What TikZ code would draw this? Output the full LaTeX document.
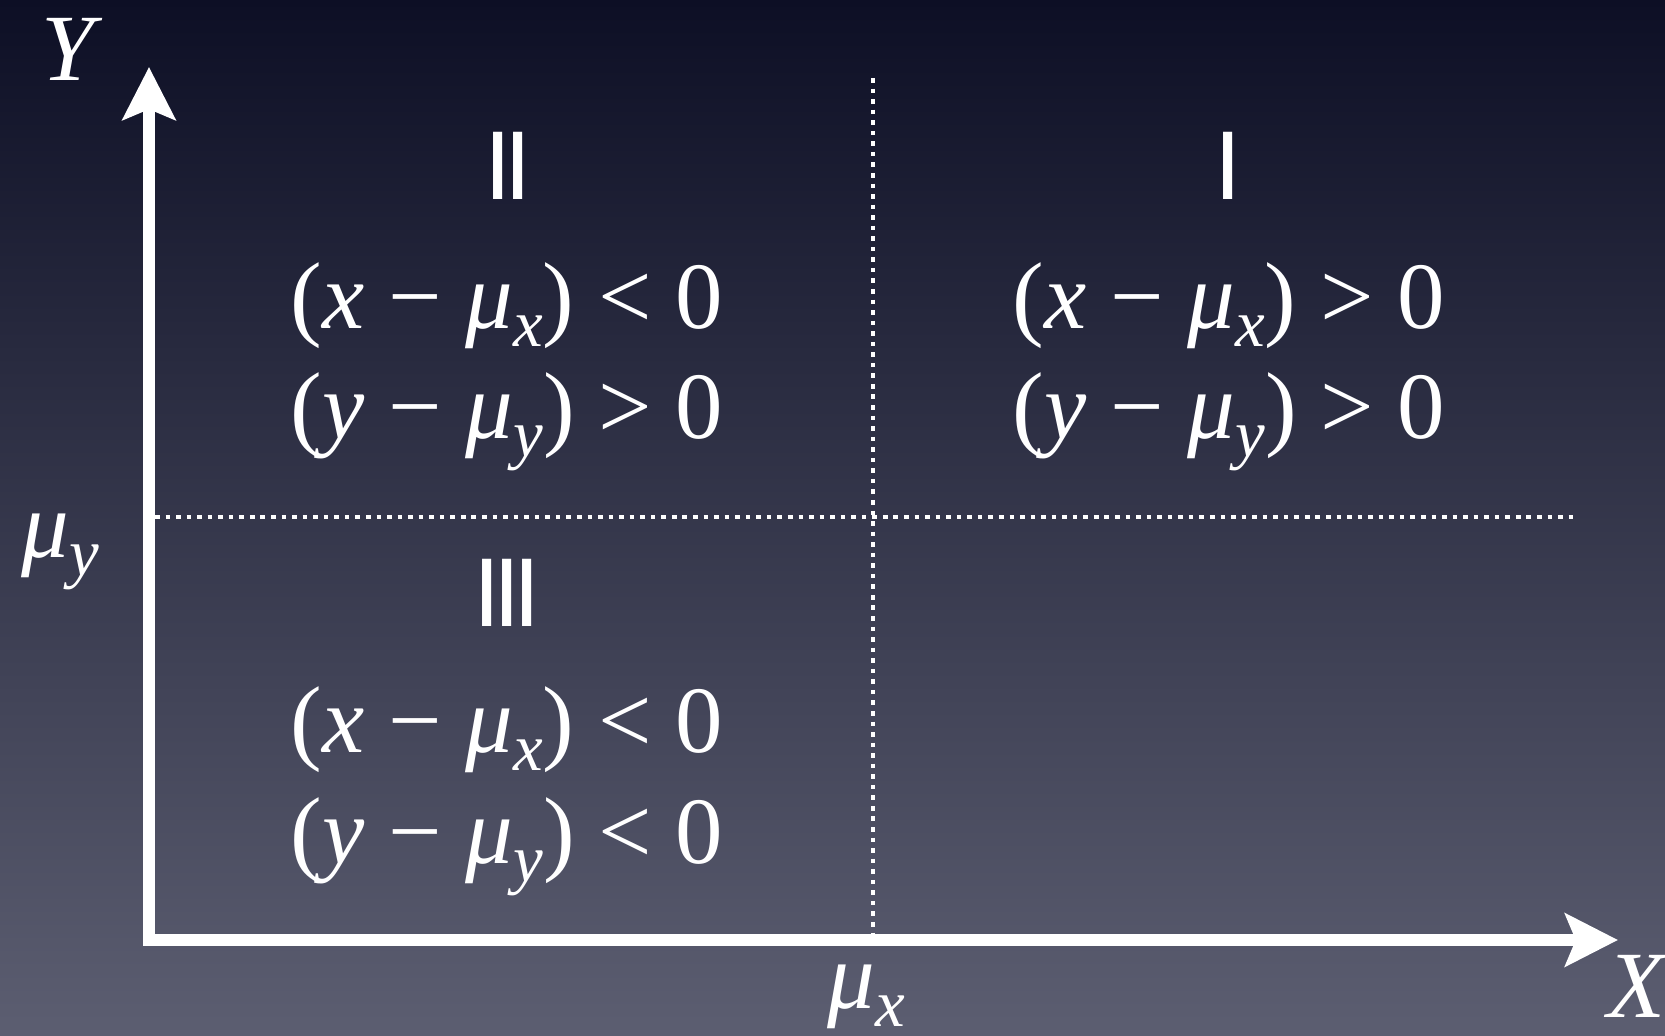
\documentclass[tikz,border=0pt]{standalone}
\usepackage{fontspec}
\setmainfont{Liberation Serif}
\newfontfamily\numfont{Liberation Sans}
\usetikzlibrary{arrows.meta}
\definecolor{bgtop}{RGB}{13,15,37}
\definecolor{bgbot}{RGB}{92,94,113}
\newcommand\subit[1]{\raisebox{-0.2em}{\fontsize{19}{19}\selectfont\itshape #1}}
\newcommand\muit{\textit{μ}}
\tikzset{
  axis/.style={white, line width=3.4pt, {Stealth[length=15pt,width=15pt,inset=3pt]}-{Stealth[length=15pt,width=15pt,inset=3pt]}},
  dotline/.style={white, line width=1.3pt, dash pattern=on 1.3pt off 1.7pt},
  eqtext/.style={white, inner sep=0pt, anchor=base, font=\fontsize{27}{27}\selectfont},
  roman/.style={white, inner sep=0pt, anchor=base, font=\numfont\fontsize{27.8}{27.8}\selectfont},
  lbl/.style={white, inner sep=0pt, anchor=base, font=\fontsize{27}{27}\selectfont}
}
\begin{document}
\begin{tikzpicture}[x=0.01cm, y=-0.01cm]
\useasboundingbox (0,0) rectangle (1665,1036);
\shade[top color=bgtop, bottom color=bgbot] (0,0) rectangle (1665,1036);

% axes
\coordinate (ytip) at (149,67);
\coordinate (O) at (149,940);
\coordinate (xtip) at (1618,940);
\draw[axis] (ytip) -- (O) -- (xtip);

% dotted lines
\coordinate (vtop) at (873,78);
\coordinate (vbot) at (873,936);
\coordinate (hleft) at (155,517);
\coordinate (hright) at (1579,517);
\draw[dotline] (vtop) -- (vbot);
\draw[dotline] (hleft) -- (hright);

% axis labels
\node[lbl] (Ylab) at (72,80) {\textit{Y}};
\node[lbl] (Xlab) at (1638,1017) {\textit{X}};
\node[lbl] (muy) at (60,557) {\muit\subit{y}};
\node[lbl] (mux) at (866,1008) {\muit\subit{x}};

% roman numerals
\node[roman] (q1) at (1228,199) {I};
\node[roman] (q2) at (508,199) {I\kern-2pt I};
\node[roman] (q3) at (507,626) {I\kern-2pt I\kern-2pt I};

% quadrant II
\node[eqtext] (q2a) at (507,328) {(\textit{x} − \muit\subit{x}) {<} 0};
\node[eqtext] (q2b) at (507,438) {(\textit{y} − \muit\subit{y}) {>} 0};
% quadrant I
\node[eqtext] (q1a) at (1229,328) {(\textit{x} − \muit\subit{x}) {>} 0};
\node[eqtext] (q1b) at (1229,438) {(\textit{y} − \muit\subit{y}) {>} 0};
% quadrant III
\node[eqtext] (q3a) at (507,752) {(\textit{x} − \muit\subit{x}) {<} 0};
\node[eqtext] (q3b) at (507,863) {(\textit{y} − \muit\subit{y}) {<} 0};
\end{tikzpicture}
\end{document}
